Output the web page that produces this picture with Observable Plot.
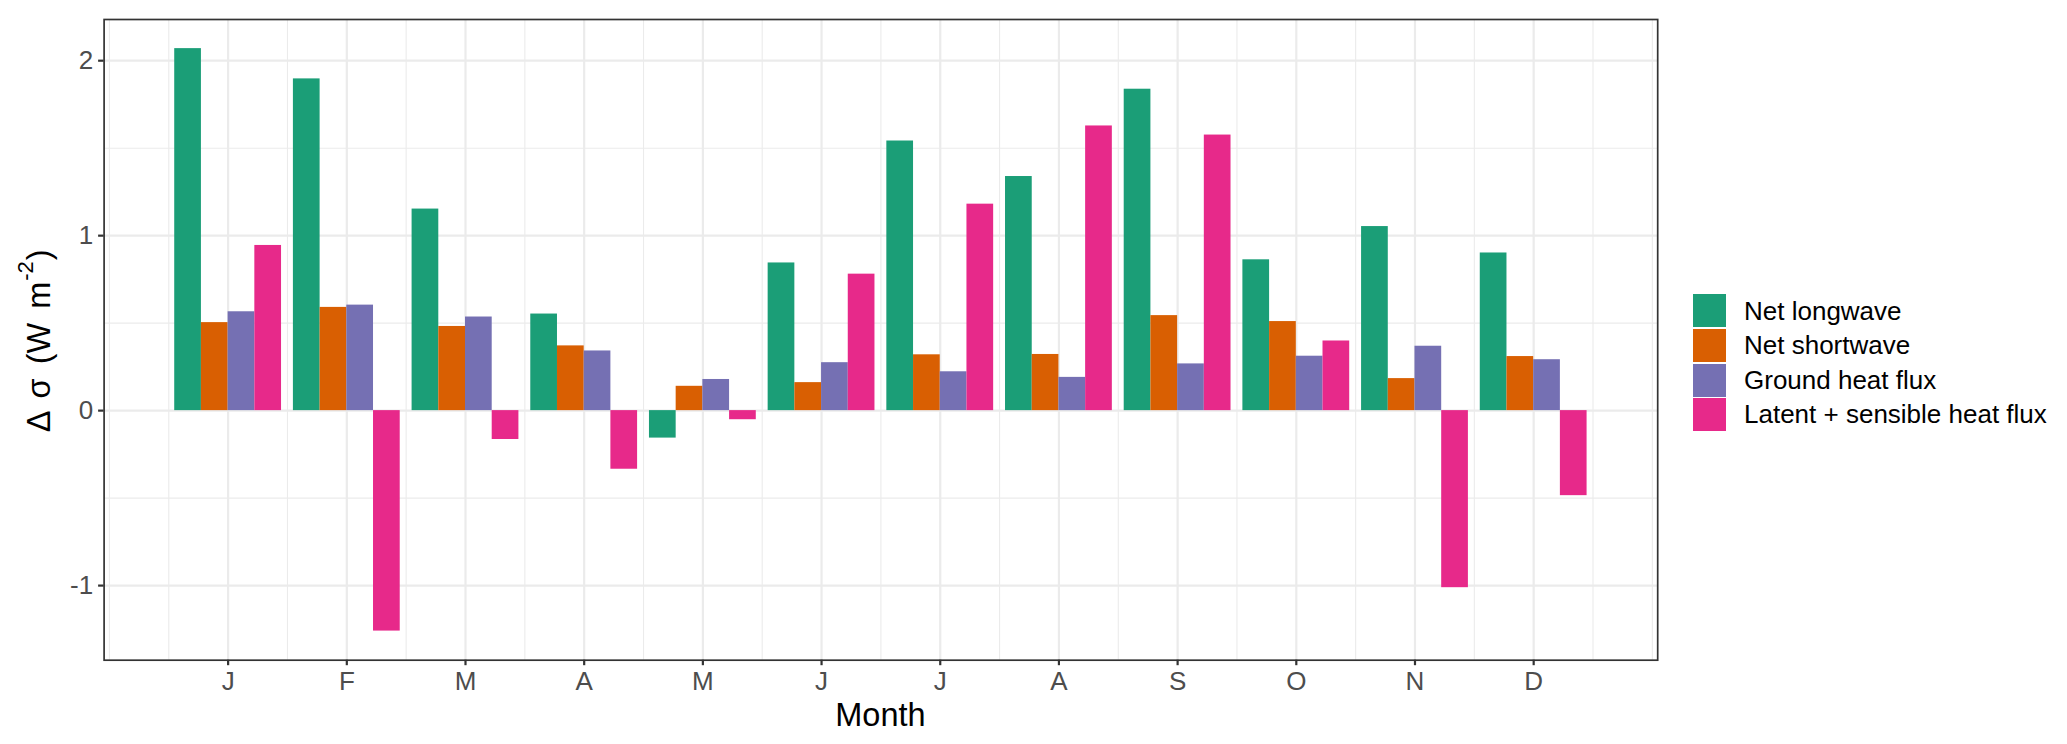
<!DOCTYPE html>
<html>
<head>
<meta charset="utf-8">
<script src="https://cdn.jsdelivr.net/npm/d3@7"></script>
<script src="https://cdn.jsdelivr.net/npm/@observablehq/plot@0.6"></script>
<style>
  html, body { margin: 0; padding: 0; background: #fff; }
  #wrap { position: relative; width: 2067px; height: 744px; font-family: "Liberation Sans", Arial, Helvetica, sans-serif; }
  #chart { position: absolute; left: 0; top: 0; }
  #legend { position: absolute; left: 1693px; top: 293.7px; }
  .row { display: flex; align-items: center; height: 34.6px; }
  .key { width: 33px; height: 33px; flex: none; }
  .lab { margin-left: 18px; font-size: 26px; color: #000; white-space: nowrap; line-height: 34.6px; }
</style>
</head>
<body>
<div id="wrap">
  <div id="chart"></div>
  <div id="legend"></div>
</div>
<script>
// ---- data ----
const monthLabels = ["J", "F", "M", "A", "M", "J", "J", "A", "S", "O", "N", "D"];
const monthNumber = [1, 2, 3, 4, 5, 6, 7, 8, 9, 10, 11, 12];
const seriesNames = ["Net longwave", "Net shortwave", "Ground heat flux", "Latent + sensible heat flux"];
const seriesColors = ["#1B9E77", "#D95F02", "#7570B3", "#E7298A"];
const netLongwave    = [2.069, 1.896, 1.152, 0.552, -0.157, 0.844, 1.541, 1.338, 1.837, 0.862, 1.052, 0.901];
const netShortwave   = [0.503, 0.590, 0.481, 0.370, 0.139, 0.160, 0.319, 0.321, 0.543, 0.509, 0.183, 0.309];
const groundHeatFlux = [0.565, 0.603, 0.535, 0.341, 0.178, 0.274, 0.222, 0.190, 0.267, 0.311, 0.368, 0.291];
const latentSensible = [0.944, -1.260, -0.165, -0.335, -0.052, 0.780, 1.180, 1.627, 1.575, 0.398, -1.012, -0.486];
const xMajorBreaks = [1, 2, 3, 4, 5, 6, 7, 8, 9, 10, 11, 12];
const xMinorBreaks = [0, 0.5, 1.5, 2.5, 3.5, 4.5, 5.5, 6.5, 7.5, 8.5, 9.5, 10.5, 11.5, 12.5, 13];
const yMajorBreaks = [-1, 0, 1, 2];
const yMinorBreaks = [-0.5, 0.5, 1.5];

// ---- table ----
const seriesValues = [netLongwave, netShortwave, groundHeatFlux, latentSensible];
const dodgeWidth = 0.9;
const barW = dodgeWidth / seriesNames.length;
const rows = [];
monthNumber.forEach((m, i) => {
  seriesValues.forEach((vals, s) => {
    rows.push({month: m, series: seriesNames[s], value: vals[i],
               x1: m - dodgeWidth / 2 + s * barW, x2: m - dodgeWidth / 2 + (s + 1) * barW});
  });
});
const xlo = d3.min(rows, d => d.x1), xhi = d3.max(rows, d => d.x2);
const allV = rows.map(d => d.value).concat([0]);
const ylo = d3.min(allV), yhi = d3.max(allV);
const xPad = (xhi - xlo) * 0.05, yPad = (yhi - ylo) * 0.05;

const W = 1662, H = 744;
const mL = 103.6, mR = 4.8, mT = 19, mB = 84.3;

const plot = Plot.plot({
  width: W, height: H,
  marginLeft: mL, marginRight: mR, marginTop: mT, marginBottom: mB,
  style: {fontFamily: '"Liberation Sans", Arial, Helvetica, sans-serif', fontSize: "26px", background: "white", overflow: "visible"},
  x: {type: "linear", domain: [xlo - xPad, xhi + xPad]},
  y: {type: "linear", domain: [ylo - yPad, yhi + yPad]},
  color: {domain: seriesNames, range: seriesColors},
  marks: [
    Plot.ruleY(yMinorBreaks, {y: d => d, stroke: "#EBEBEB", strokeWidth: 1.1}),
    Plot.ruleX(xMinorBreaks, {x: d => d, stroke: "#EBEBEB", strokeWidth: 1.1}),
    Plot.ruleY(yMajorBreaks, {y: d => d, stroke: "#EBEBEB", strokeWidth: 2.2}),
    Plot.ruleX(xMajorBreaks, {x: d => d, stroke: "#EBEBEB", strokeWidth: 2.2}),
    Plot.rectY(rows, {x1: "x1", x2: "x2", y1: 0, y2: "value", fill: "series"}),
    Plot.axisX({ticks: xMajorBreaks, tickFormat: d => monthLabels[d - 1], tickSize: 5.5, tickPadding: 5.5,
                fontSize: 26, fill: "#4D4D4D", stroke: "#333333", strokeWidth: 2.2, label: null}),
    Plot.axisY({ticks: yMajorBreaks, tickFormat: d => String(d), tickSize: 5.5, tickPadding: 5.5,
                fontSize: 26, fill: "#4D4D4D", stroke: "#333333", strokeWidth: 2.2, label: null}),
    Plot.frame({stroke: "#333333", strokeWidth: 1.7})
  ]
});
document.getElementById("chart").appendChild(plot);

// axis titles
const svg = d3.select(plot);
const panelCx = mL + (W - mL - mR) / 2;
const panelCy = mT + (H - mT - mB) / 2;
svg.append("text")
  .attr("x", panelCx).attr("y", 726)
  .attr("text-anchor", "middle").attr("fill", "#000")
  .style("font-size", "32.5px")
  .text("Month");
const yt = svg.append("text")
  .attr("transform", `translate(50,${panelCy + 1.5}) rotate(-90)`)
  .attr("text-anchor", "middle").attr("fill", "#000")
  .style("font-size", "32.5px")
  .style("word-spacing", "5px");
yt.append("tspan").text("Δ σ (W m");
yt.append("tspan").attr("dx", 1).attr("dy", -16.7).style("font-size", "22px").text("-2");
yt.append("tspan").attr("dx", 1).attr("dy", 16.7).text(")");

// legend
const leg = d3.select("#legend");
seriesNames.forEach((name, i) => {
  const r = leg.append("div").attr("class", "row");
  r.append("div").attr("class", "key").style("background", seriesColors[i]);
  r.append("div").attr("class", "lab").text(name);
});
</script>
</body>
</html>
